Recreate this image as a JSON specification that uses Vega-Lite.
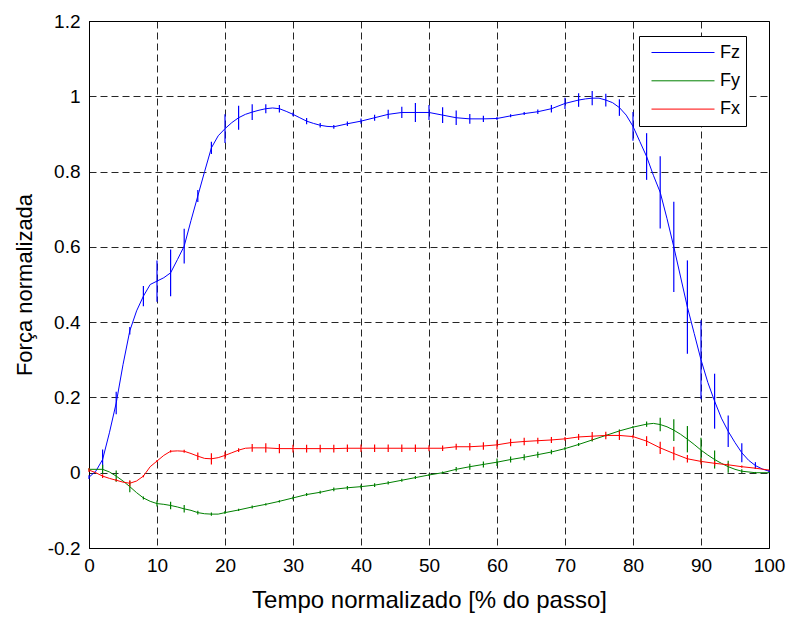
{
  "$schema": "https://vega.github.io/schema/vega-lite/v6.json",
  "autosize": {"type": "none"},
  "width": 680,
  "height": 527,
  "padding": {"left": 89, "top": 21, "right": 19, "bottom": 69},
  "background": "white",
  "config": {
    "font": "Liberation Sans",
    "view": {"stroke": "black", "strokeWidth": 1},
    "axis": {
      "domainColor": "black",
      "gridColor": "black",
      "gridDash": [7, 4],
      "gridOpacity": 0.85,
      "gridWidth": 1,
      "ticks": false,
      "labelColor": "black",
      "labelFontSize": 19,
      "titleColor": "black",
      "titleFontWeight": "normal"
    }
  },
  "datasets": {
    "lines": [
      {"t":0,"s":"Fz","f":-0.012},{"t":1,"s":"Fz","f":0.004},{"t":2,"s":"Fz","f":0.035},{"t":3,"s":"Fz","f":0.106},{"t":4,"s":"Fz","f":0.185},{"t":5,"s":"Fz","f":0.287},{"t":6,"s":"Fz","f":0.377},{"t":7,"s":"Fz","f":0.43},{"t":8,"s":"Fz","f":0.469},{"t":9,"s":"Fz","f":0.5},{"t":10,"s":"Fz","f":0.509},{"t":11,"s":"Fz","f":0.518},{"t":12,"s":"Fz","f":0.531},{"t":13,"s":"Fz","f":0.566},{"t":14,"s":"Fz","f":0.602},{"t":15,"s":"Fz","f":0.67},{"t":16,"s":"Fz","f":0.735},{"t":17,"s":"Fz","f":0.8},{"t":18,"s":"Fz","f":0.863},{"t":19,"s":"Fz","f":0.895},{"t":20,"s":"Fz","f":0.914},{"t":21,"s":"Fz","f":0.93},{"t":22,"s":"Fz","f":0.943},{"t":23,"s":"Fz","f":0.952},{"t":24,"s":"Fz","f":0.958},{"t":25,"s":"Fz","f":0.963},{"t":26,"s":"Fz","f":0.967},{"t":27,"s":"Fz","f":0.969},{"t":28,"s":"Fz","f":0.967},{"t":29,"s":"Fz","f":0.96},{"t":30,"s":"Fz","f":0.952},{"t":31,"s":"Fz","f":0.943},{"t":32,"s":"Fz","f":0.934},{"t":33,"s":"Fz","f":0.928},{"t":34,"s":"Fz","f":0.923},{"t":35,"s":"Fz","f":0.92},{"t":36,"s":"Fz","f":0.919},{"t":38,"s":"Fz","f":0.927},{"t":40,"s":"Fz","f":0.934},{"t":42,"s":"Fz","f":0.943},{"t":44,"s":"Fz","f":0.952},{"t":46,"s":"Fz","f":0.957},{"t":48,"s":"Fz","f":0.957},{"t":50,"s":"Fz","f":0.957},{"t":52,"s":"Fz","f":0.95},{"t":54,"s":"Fz","f":0.943},{"t":56,"s":"Fz","f":0.94},{"t":58,"s":"Fz","f":0.94},{"t":60,"s":"Fz","f":0.941},{"t":62,"s":"Fz","f":0.948},{"t":64,"s":"Fz","f":0.954},{"t":66,"s":"Fz","f":0.959},{"t":68,"s":"Fz","f":0.967},{"t":70,"s":"Fz","f":0.981},{"t":72,"s":"Fz","f":0.99},{"t":73,"s":"Fz","f":0.993},{"t":74,"s":"Fz","f":0.995},{"t":75,"s":"Fz","f":0.995},{"t":76,"s":"Fz","f":0.99},{"t":77,"s":"Fz","f":0.983},{"t":78,"s":"Fz","f":0.97},{"t":79,"s":"Fz","f":0.95},{"t":80,"s":"Fz","f":0.92},{"t":81,"s":"Fz","f":0.88},{"t":82,"s":"Fz","f":0.84},{"t":83,"s":"Fz","f":0.79},{"t":84,"s":"Fz","f":0.745},{"t":85,"s":"Fz","f":0.675},{"t":86,"s":"Fz","f":0.6},{"t":87,"s":"Fz","f":0.52},{"t":88,"s":"Fz","f":0.44},{"t":89,"s":"Fz","f":0.37},{"t":90,"s":"Fz","f":0.3},{"t":91,"s":"Fz","f":0.24},{"t":92,"s":"Fz","f":0.19},{"t":93,"s":"Fz","f":0.145},{"t":94,"s":"Fz","f":0.11},{"t":95,"s":"Fz","f":0.08},{"t":96,"s":"Fz","f":0.053},{"t":97,"s":"Fz","f":0.033},{"t":98,"s":"Fz","f":0.019},{"t":99,"s":"Fz","f":0.01},{"t":100,"s":"Fz","f":0.004},

      {"t":0,"s":"Fy","f":0.009},{"t":2,"s":"Fy","f":0.009},{"t":3,"s":"Fy","f":0.002},{"t":4,"s":"Fy","f":-0.009},{"t":5,"s":"Fy","f":-0.022},{"t":6,"s":"Fy","f":-0.037},{"t":7,"s":"Fy","f":-0.053},{"t":8,"s":"Fy","f":-0.067},{"t":9,"s":"Fy","f":-0.076},{"t":10,"s":"Fy","f":-0.082},{"t":11,"s":"Fy","f":-0.084},{"t":12,"s":"Fy","f":-0.087},{"t":13,"s":"Fy","f":-0.091},{"t":14,"s":"Fy","f":-0.096},{"t":15,"s":"Fy","f":-0.1},{"t":16,"s":"Fy","f":-0.106},{"t":17,"s":"Fy","f":-0.109},{"t":18,"s":"Fy","f":-0.11},{"t":19,"s":"Fy","f":-0.11},{"t":20,"s":"Fy","f":-0.106},{"t":22,"s":"Fy","f":-0.099},{"t":24,"s":"Fy","f":-0.091},{"t":26,"s":"Fy","f":-0.084},{"t":28,"s":"Fy","f":-0.076},{"t":30,"s":"Fy","f":-0.067},{"t":32,"s":"Fy","f":-0.058},{"t":34,"s":"Fy","f":-0.052},{"t":36,"s":"Fy","f":-0.044},{"t":38,"s":"Fy","f":-0.04},{"t":40,"s":"Fy","f":-0.037},{"t":42,"s":"Fy","f":-0.033},{"t":44,"s":"Fy","f":-0.027},{"t":46,"s":"Fy","f":-0.02},{"t":48,"s":"Fy","f":-0.013},{"t":50,"s":"Fy","f":-0.006},{"t":52,"s":"Fy","f":0.0},{"t":54,"s":"Fy","f":0.009},{"t":56,"s":"Fy","f":0.016},{"t":58,"s":"Fy","f":0.022},{"t":60,"s":"Fy","f":0.028},{"t":62,"s":"Fy","f":0.035},{"t":64,"s":"Fy","f":0.041},{"t":66,"s":"Fy","f":0.048},{"t":68,"s":"Fy","f":0.055},{"t":70,"s":"Fy","f":0.064},{"t":72,"s":"Fy","f":0.075},{"t":74,"s":"Fy","f":0.087},{"t":76,"s":"Fy","f":0.099},{"t":78,"s":"Fy","f":0.111},{"t":80,"s":"Fy","f":0.121},{"t":82,"s":"Fy","f":0.129},{"t":83,"s":"Fy","f":0.131},{"t":84,"s":"Fy","f":0.128},{"t":85,"s":"Fy","f":0.122},{"t":86,"s":"Fy","f":0.113},{"t":87,"s":"Fy","f":0.102},{"t":88,"s":"Fy","f":0.089},{"t":89,"s":"Fy","f":0.075},{"t":90,"s":"Fy","f":0.06},{"t":91,"s":"Fy","f":0.047},{"t":92,"s":"Fy","f":0.035},{"t":93,"s":"Fy","f":0.025},{"t":94,"s":"Fy","f":0.016},{"t":95,"s":"Fy","f":0.009},{"t":96,"s":"Fy","f":0.004},{"t":98,"s":"Fy","f":0.0},{"t":100,"s":"Fy","f":0.0},

      {"t":0,"s":"Fx","f":0.007},{"t":1,"s":"Fx","f":0.0},{"t":2,"s":"Fx","f":-0.009},{"t":3,"s":"Fx","f":-0.015},{"t":4,"s":"Fx","f":-0.02},{"t":5,"s":"Fx","f":-0.025},{"t":6,"s":"Fx","f":-0.028},{"t":7,"s":"Fx","f":-0.022},{"t":8,"s":"Fx","f":-0.009},{"t":9,"s":"Fx","f":0.016},{"t":10,"s":"Fx","f":0.031},{"t":11,"s":"Fx","f":0.046},{"t":12,"s":"Fx","f":0.057},{"t":13,"s":"Fx","f":0.058},{"t":14,"s":"Fx","f":0.057},{"t":15,"s":"Fx","f":0.051},{"t":16,"s":"Fx","f":0.044},{"t":17,"s":"Fx","f":0.038},{"t":18,"s":"Fx","f":0.037},{"t":19,"s":"Fx","f":0.04},{"t":20,"s":"Fx","f":0.046},{"t":21,"s":"Fx","f":0.053},{"t":22,"s":"Fx","f":0.06},{"t":23,"s":"Fx","f":0.065},{"t":24,"s":"Fx","f":0.066},{"t":26,"s":"Fx","f":0.066},{"t":28,"s":"Fx","f":0.064},{"t":30,"s":"Fx","f":0.064},{"t":32,"s":"Fx","f":0.064},{"t":34,"s":"Fx","f":0.064},{"t":36,"s":"Fx","f":0.064},{"t":38,"s":"Fx","f":0.065},{"t":40,"s":"Fx","f":0.065},{"t":42,"s":"Fx","f":0.065},{"t":44,"s":"Fx","f":0.065},{"t":46,"s":"Fx","f":0.065},{"t":48,"s":"Fx","f":0.065},{"t":50,"s":"Fx","f":0.065},{"t":52,"s":"Fx","f":0.065},{"t":54,"s":"Fx","f":0.069},{"t":56,"s":"Fx","f":0.069},{"t":58,"s":"Fx","f":0.071},{"t":60,"s":"Fx","f":0.074},{"t":62,"s":"Fx","f":0.08},{"t":64,"s":"Fx","f":0.083},{"t":66,"s":"Fx","f":0.085},{"t":68,"s":"Fx","f":0.087},{"t":70,"s":"Fx","f":0.09},{"t":72,"s":"Fx","f":0.095},{"t":74,"s":"Fx","f":0.097},{"t":76,"s":"Fx","f":0.099},{"t":78,"s":"Fx","f":0.099},{"t":80,"s":"Fx","f":0.096},{"t":82,"s":"Fx","f":0.084},{"t":84,"s":"Fx","f":0.066},{"t":86,"s":"Fx","f":0.051},{"t":88,"s":"Fx","f":0.037},{"t":90,"s":"Fx","f":0.03},{"t":92,"s":"Fx","f":0.025},{"t":94,"s":"Fx","f":0.021},{"t":96,"s":"Fx","f":0.016},{"t":98,"s":"Fx","f":0.012},{"t":100,"s":"Fx","f":0.007}
    ],
    "errs": [
      {"t":0,"s":"Fz","lo":-0.017,"hi":-0.007},{"t":2,"s":"Fz","lo":0.008,"hi":0.062},{"t":4,"s":"Fz","lo":0.155,"hi":0.215},{"t":6,"s":"Fz","lo":0.367,"hi":0.387},{"t":8,"s":"Fz","lo":0.442,"hi":0.496},{"t":10,"s":"Fz","lo":0.454,"hi":0.564},{"t":12,"s":"Fz","lo":0.469,"hi":0.593},{"t":14,"s":"Fz","lo":0.556,"hi":0.648},{"t":16,"s":"Fz","lo":0.719,"hi":0.751},{"t":18,"s":"Fz","lo":0.847,"hi":0.879},{"t":20,"s":"Fz","lo":0.876,"hi":0.952},{"t":22,"s":"Fz","lo":0.911,"hi":0.975},{"t":24,"s":"Fz","lo":0.937,"hi":0.979},{"t":26,"s":"Fz","lo":0.955,"hi":0.979},{"t":28,"s":"Fz","lo":0.957,"hi":0.977},{"t":30,"s":"Fz","lo":0.947,"hi":0.957},{"t":32,"s":"Fz","lo":0.926,"hi":0.942},{"t":34,"s":"Fz","lo":0.917,"hi":0.929},{"t":36,"s":"Fz","lo":0.914,"hi":0.924},{"t":38,"s":"Fz","lo":0.921,"hi":0.933},{"t":40,"s":"Fz","lo":0.927,"hi":0.941},{"t":42,"s":"Fz","lo":0.935,"hi":0.951},{"t":44,"s":"Fz","lo":0.94,"hi":0.964},{"t":46,"s":"Fz","lo":0.942,"hi":0.972},{"t":48,"s":"Fz","lo":0.932,"hi":0.982},{"t":50,"s":"Fz","lo":0.937,"hi":0.977},{"t":52,"s":"Fz","lo":0.929,"hi":0.971},{"t":54,"s":"Fz","lo":0.924,"hi":0.962},{"t":56,"s":"Fz","lo":0.927,"hi":0.953},{"t":58,"s":"Fz","lo":0.932,"hi":0.948},{"t":60,"s":"Fz","lo":0.937,"hi":0.945},{"t":62,"s":"Fz","lo":0.944,"hi":0.952},{"t":64,"s":"Fz","lo":0.95,"hi":0.958},{"t":66,"s":"Fz","lo":0.953,"hi":0.965},{"t":68,"s":"Fz","lo":0.957,"hi":0.977},{"t":70,"s":"Fz","lo":0.966,"hi":0.996},{"t":72,"s":"Fz","lo":0.972,"hi":1.008},{"t":74,"s":"Fz","lo":0.976,"hi":1.014},{"t":76,"s":"Fz","lo":0.973,"hi":1.007},{"t":78,"s":"Fz","lo":0.948,"hi":0.992},{"t":80,"s":"Fz","lo":0.882,"hi":0.958},{"t":82,"s":"Fz","lo":0.778,"hi":0.902},{"t":84,"s":"Fz","lo":0.649,"hi":0.841},{"t":86,"s":"Fz","lo":0.48,"hi":0.72},{"t":88,"s":"Fz","lo":0.316,"hi":0.564},{"t":90,"s":"Fz","lo":0.195,"hi":0.405},{"t":92,"s":"Fz","lo":0.117,"hi":0.263},{"t":94,"s":"Fz","lo":0.068,"hi":0.152},{"t":96,"s":"Fz","lo":0.028,"hi":0.078},{"t":98,"s":"Fz","lo":0.01,"hi":0.028},{"t":100,"s":"Fz","lo":0.001,"hi":0.007},

      {"t":0,"s":"Fy","lo":0.006,"hi":0.012},{"t":2,"s":"Fy","lo":-0.003,"hi":0.021},{"t":4,"s":"Fy","lo":-0.024,"hi":0.006},{"t":6,"s":"Fy","lo":-0.052,"hi":-0.022},{"t":8,"s":"Fy","lo":-0.071,"hi":-0.063},{"t":10,"s":"Fy","lo":-0.09,"hi":-0.074},{"t":12,"s":"Fy","lo":-0.097,"hi":-0.077},{"t":14,"s":"Fy","lo":-0.106,"hi":-0.086},{"t":16,"s":"Fy","lo":-0.111,"hi":-0.101},{"t":18,"s":"Fy","lo":-0.114,"hi":-0.106},{"t":20,"s":"Fy","lo":-0.11,"hi":-0.102},{"t":22,"s":"Fy","lo":-0.102,"hi":-0.096},{"t":24,"s":"Fy","lo":-0.095,"hi":-0.087},{"t":26,"s":"Fy","lo":-0.087,"hi":-0.081},{"t":28,"s":"Fy","lo":-0.079,"hi":-0.073},{"t":30,"s":"Fy","lo":-0.071,"hi":-0.063},{"t":32,"s":"Fy","lo":-0.062,"hi":-0.054},{"t":34,"s":"Fy","lo":-0.056,"hi":-0.048},{"t":36,"s":"Fy","lo":-0.049,"hi":-0.039},{"t":38,"s":"Fy","lo":-0.045,"hi":-0.035},{"t":40,"s":"Fy","lo":-0.042,"hi":-0.032},{"t":42,"s":"Fy","lo":-0.038,"hi":-0.028},{"t":44,"s":"Fy","lo":-0.031,"hi":-0.023},{"t":46,"s":"Fy","lo":-0.024,"hi":-0.016},{"t":48,"s":"Fy","lo":-0.017,"hi":-0.009},{"t":50,"s":"Fy","lo":-0.009,"hi":-0.003},{"t":52,"s":"Fy","lo":-0.003,"hi":0.003},{"t":54,"s":"Fy","lo":0.003,"hi":0.015},{"t":56,"s":"Fy","lo":0.008,"hi":0.024},{"t":58,"s":"Fy","lo":0.014,"hi":0.03},{"t":60,"s":"Fy","lo":0.018,"hi":0.038},{"t":62,"s":"Fy","lo":0.027,"hi":0.043},{"t":64,"s":"Fy","lo":0.033,"hi":0.049},{"t":66,"s":"Fy","lo":0.04,"hi":0.056},{"t":68,"s":"Fy","lo":0.049,"hi":0.061},{"t":70,"s":"Fy","lo":0.06,"hi":0.068},{"t":72,"s":"Fy","lo":0.071,"hi":0.079},{"t":74,"s":"Fy","lo":0.083,"hi":0.091},{"t":76,"s":"Fy","lo":0.096,"hi":0.102},{"t":78,"s":"Fy","lo":0.107,"hi":0.115},{"t":80,"s":"Fy","lo":0.118,"hi":0.124},{"t":82,"s":"Fy","lo":0.122,"hi":0.136},{"t":84,"s":"Fy","lo":0.11,"hi":0.146},{"t":86,"s":"Fy","lo":0.084,"hi":0.142},{"t":88,"s":"Fy","lo":0.054,"hi":0.124},{"t":90,"s":"Fy","lo":0.027,"hi":0.093},{"t":92,"s":"Fy","lo":0.011,"hi":0.059},{"t":94,"s":"Fy","lo":0.0,"hi":0.032},{"t":96,"s":"Fy","lo":-0.001,"hi":0.009},{"t":98,"s":"Fy","lo":-0.002,"hi":0.002},{"t":100,"s":"Fy","lo":-0.001,"hi":0.001},

      {"t":0,"s":"Fx","lo":0.002,"hi":0.012},{"t":2,"s":"Fx","lo":-0.014,"hi":-0.004},{"t":4,"s":"Fx","lo":-0.023,"hi":-0.017},{"t":6,"s":"Fx","lo":-0.036,"hi":-0.02},{"t":8,"s":"Fx","lo":-0.012,"hi":-0.006},{"t":10,"s":"Fx","lo":0.028,"hi":0.034},{"t":12,"s":"Fx","lo":0.054,"hi":0.06},{"t":14,"s":"Fx","lo":0.053,"hi":0.061},{"t":16,"s":"Fx","lo":0.034,"hi":0.054},{"t":18,"s":"Fx","lo":0.022,"hi":0.052},{"t":20,"s":"Fx","lo":0.036,"hi":0.056},{"t":22,"s":"Fx","lo":0.055,"hi":0.065},{"t":24,"s":"Fx","lo":0.056,"hi":0.076},{"t":26,"s":"Fx","lo":0.054,"hi":0.078},{"t":28,"s":"Fx","lo":0.052,"hi":0.076},{"t":30,"s":"Fx","lo":0.054,"hi":0.074},{"t":32,"s":"Fx","lo":0.054,"hi":0.074},{"t":34,"s":"Fx","lo":0.054,"hi":0.074},{"t":36,"s":"Fx","lo":0.054,"hi":0.074},{"t":38,"s":"Fx","lo":0.055,"hi":0.075},{"t":40,"s":"Fx","lo":0.055,"hi":0.075},{"t":42,"s":"Fx","lo":0.055,"hi":0.075},{"t":44,"s":"Fx","lo":0.055,"hi":0.075},{"t":46,"s":"Fx","lo":0.055,"hi":0.075},{"t":48,"s":"Fx","lo":0.055,"hi":0.075},{"t":50,"s":"Fx","lo":0.057,"hi":0.073},{"t":52,"s":"Fx","lo":0.058,"hi":0.072},{"t":54,"s":"Fx","lo":0.061,"hi":0.077},{"t":56,"s":"Fx","lo":0.059,"hi":0.079},{"t":58,"s":"Fx","lo":0.061,"hi":0.081},{"t":60,"s":"Fx","lo":0.062,"hi":0.086},{"t":62,"s":"Fx","lo":0.07,"hi":0.09},{"t":64,"s":"Fx","lo":0.073,"hi":0.093},{"t":66,"s":"Fx","lo":0.077,"hi":0.093},{"t":68,"s":"Fx","lo":0.079,"hi":0.095},{"t":70,"s":"Fx","lo":0.085,"hi":0.095},{"t":72,"s":"Fx","lo":0.087,"hi":0.103},{"t":74,"s":"Fx","lo":0.086,"hi":0.108},{"t":76,"s":"Fx","lo":0.089,"hi":0.109},{"t":78,"s":"Fx","lo":0.087,"hi":0.111},{"t":80,"s":"Fx","lo":0.091,"hi":0.101},{"t":82,"s":"Fx","lo":0.071,"hi":0.097},{"t":84,"s":"Fx","lo":0.05,"hi":0.082},{"t":86,"s":"Fx","lo":0.033,"hi":0.069},{"t":88,"s":"Fx","lo":0.027,"hi":0.047},{"t":90,"s":"Fx","lo":0.022,"hi":0.038},{"t":92,"s":"Fx","lo":0.019,"hi":0.031},{"t":94,"s":"Fx","lo":0.017,"hi":0.025},{"t":96,"s":"Fx","lo":0.013,"hi":0.019},{"t":98,"s":"Fx","lo":0.01,"hi":0.014},{"t":100,"s":"Fx","lo":0.006,"hi":0.008}
    ]
  },
  "layer": [
    {
      "data": {"name": "lines"},
      "mark": {"type": "line", "strokeWidth": 1, "clip": true},
      "encoding": {
        "x": {
          "field": "t", "type": "quantitative",
          "scale": {"domain": [0, 100], "nice": false, "zero": false},
          "axis": {
            "values": [0,10,20,30,40,50,60,70,80,90,100],
            "title": "Tempo normalizado [% do passo]",
            "titleFontSize": 24,
            "labelPadding": 8,
            "titlePadding": 13,
            "labelFlush": false
          }
        },
        "y": {
          "field": "f", "type": "quantitative",
          "scale": {"domain": [-0.2, 1.2], "nice": false, "zero": false},
          "axis": {
            "values": [-0.2,0,0.2,0.4,0.6,0.8,1,1.2],
            "labelExpr": "replace(format(datum.value, '~g'), '\u2212', '-')",
            "title": "Força normalizada",
            "titleFontSize": 22,
            "labelPadding": 9,
            "titlePadding": 11,
            "labelFlush": false
          }
        },
        "color": {
          "field": "s", "type": "nominal",
          "scale": {"domain": ["Fz", "Fy", "Fx"], "range": ["#0000ff", "#008000", "#ff0000"]},
          "legend": {
            "title": null,
            "orient": "none",
            "legendX": 550,
            "legendY": 15,
            "symbolType": "stroke",
            "symbolSize": 3969,
            "symbolStrokeWidth": 1,
            "symbolOffset": 6,
            "labelFontSize": 18,
            "labelColor": "black",
            "labelOffset": 5,
            "labelExpr": "datum.label + '\u00a0\u00a0\u00a0'",
            "clipHeight": 21,
            "rowPadding": 7.3,
            "strokeColor": "black",
            "fillColor": "white",
            "padding": 6
          }
        },
        "detail": {"field": "s"}
      }
    },
    {
      "data": {"name": "errs"},
      "mark": {"type": "rule", "strokeWidth": 1.2},
      "encoding": {
        "x": {"field": "t", "type": "quantitative"},
        "y": {"field": "lo", "type": "quantitative"},
        "y2": {"field": "hi"},
        "color": {"field": "s", "type": "nominal"}
      }
    }
  ]
}
